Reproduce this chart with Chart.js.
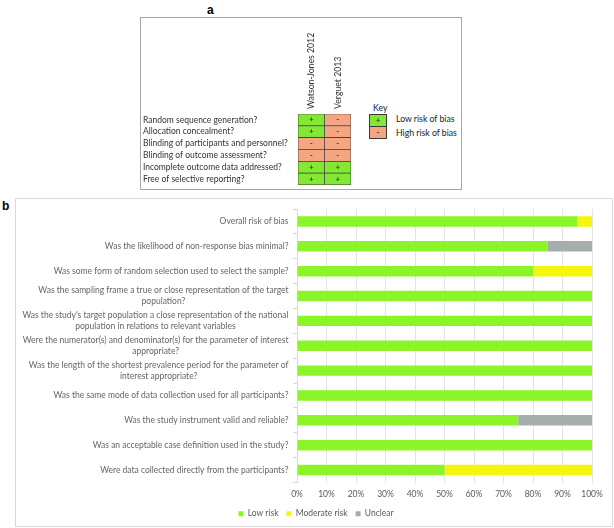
<!DOCTYPE html>
<html><head><meta charset="utf-8">
<script src="https://cdn.jsdelivr.net/npm/chart.js@4/dist/chart.umd.min.js"></script>
<style>
body{margin:0;width:614px;height:528px;background:#fff;position:relative;overflow:hidden;font-family:Lato,sans-serif}
.plab{position:absolute;font-family:"Liberation Sans",Arial,sans-serif;font-weight:bold;font-size:12px;color:#000;line-height:12px}
#boxA{position:absolute;left:140px;top:17px;width:322px;height:173px;border:1px solid #a6a6a6;box-sizing:border-box}
#boxB{position:absolute;left:15px;top:198px;width:598px;height:329px;border:1px solid #d9d9d9;box-sizing:border-box}
#wa{position:absolute;left:140px;top:17px;width:216px;height:173px}
#wb{position:absolute;left:16px;top:199px;width:595px;height:329px}
.kbox{position:absolute;left:369px;width:18px;height:13px;border:1px solid #3a3a3a;box-sizing:border-box;font-size:8px;font-weight:bold;color:#333;text-align:center;line-height:11px}
.ktxt{position:absolute;left:396px;font-size:8.7px;color:#1a1a1a;line-height:12px;white-space:nowrap}
</style></head>
<body>
<div class="plab" style="left:207px;top:4px">a</div>
<div class="plab" style="left:2px;top:200px">b</div>
<div id="boxA"></div>
<div id="boxB"></div>
<div id="wa"><canvas id="ca" width="216" height="173"></canvas></div>
<div id="wb"><canvas id="cb" width="595" height="329"></canvas></div>
<div class="ktxt" style="left:373px;top:102px">Key</div>
<div class="kbox" style="top:114px;background:#82e833">+</div>
<div class="kbox" style="top:126px;background:#f4a582">-</div>
<div class="ktxt" style="top:113px">Low risk of bias</div>
<div class="ktxt" style="top:127px">High risk of bias</div>
<script>
// ---- Panel a data ----
const domainsA = ['Random sequence generation?','Allocation concealment?','Blinding of participants and personnel?','Blinding of outcome assessment?','Incomplete outcome data addressed?','Free of selective reporting?'];
const studies = ['Watson-Jones 2012','Verguet 2013'];
const watsonJones = ['+','+','-','-','+','+'];
const verguet = ['-','-','-','-','+','+'];

// ---- Panel b data ----
const questions = [
  ['Overall risk of bias'],
  ['Was the likelihood of non-response bias minimal?'],
  ['Was some form of random selection used to select the sample?'],
  ['Was the sampling frame a true or close representation of the target','population?'],
  ["Was the study's target population a close representation of the national",'population in relations to relevant variables'],
  ['Were the numerator(s) and denominator(s) for the parameter of interest','appropriate?'],
  ['Was the length of the shortest prevalence period for the parameter of','interest appropriate?'],
  ['Was the same mode of data collection used for all participants?'],
  ['Was the study instrument valid and reliable?'],
  ['Was an acceptable case definition used in the study?'],
  ['Were data collected directly from the participants?']
];
const lowRisk      = [95, 85, 80, 100, 100, 100, 100, 100, 75, 100, 50];
const moderateRisk = [ 5,  0, 20,   0,   0,   0,   0,   0,  0,   0, 50];
const unclear      = [ 0, 15,  0,   0,   0,   0,   0,   0, 25,   0,  0];
const seriesNames = ['Low risk','Moderate risk','Unclear'];

const GREEN_A = '#82e833', SALMON = '#f4a582';
const judgements = [watsonJones, verguet];

const cellText = {
  id:'cellText',
  afterDatasetsDraw(chart){
    const ctx = chart.ctx, xs = chart.scales.x, ys = chart.scales.y;
    ctx.save();
    ctx.font = 'bold 8px Lato'; ctx.fillStyle = '#333';
    ctx.textAlign = 'center'; ctx.textBaseline = 'middle';
    judgements.forEach((arr,j)=>arr.forEach((v,i)=>{
      ctx.fillText(v, xs.getPixelForValue(j+0.5), ys.getPixelForValue(i));
    }));
    // rotated study headers
    ctx.font = '8.7px Lato'; ctx.fillStyle = '#333';
    ctx.textAlign = 'left'; ctx.textBaseline = 'middle';
    studies.forEach((s,j)=>{
      ctx.save();
      ctx.translate(xs.getPixelForValue(j+0.5), chart.chartArea.top - 5);
      ctx.rotate(-Math.PI/2);
      ctx.fillText(s, 0, 0);
      ctx.restore();
    });
    ctx.restore();
  }
};

new Chart(document.getElementById('ca'), {
  type:'bar',
  data:{
    labels: domainsA,
    datasets: studies.map((s,j)=>({
      label:s,
      data: domainsA.map(()=>[j, j+1]),
      grouped:false,
      backgroundColor: judgements[j].map(v => v==='+' ? GREEN_A : SALMON),
      borderColor:'#3a3a3a', borderWidth:0.7, borderSkipped:false,
      categoryPercentage:1, barPercentage:1
    }))
  },
  options:{
    indexAxis:'y', responsive:false, animation:false, events:[],
    layout:{padding:{left:3,right:5,top:97,bottom:1}},
    plugins:{legend:{display:false},tooltip:{enabled:false}},
    scales:{
      x:{type:'linear',min:0,max:2,display:false},
      y:{type:'category',grid:{display:false},border:{display:false},
         ticks:{autoSkip:false,crossAlign:'far',padding:0,color:'#333',font:{family:'Lato',size:8.5}},
         afterFit(s){s.width=155;}}
    }
  },
  plugins:[cellText]
});

const LH = 11;
const yLabels = {
  id:'yLabels',
  afterDraw(chart){
    const ctx = chart.ctx, ys = chart.scales.y;
    const right = chart.chartArea.left - 8.5;
    ctx.save();
    ctx.font = '8.5px Lato'; ctx.fillStyle = '#666';
    ctx.textAlign = 'center'; ctx.textBaseline = 'middle';
    questions.forEach((lines,i)=>{
      const w = Math.max(...lines.map(l=>ctx.measureText(l).width));
      const cx = right - w/2;
      const y0 = ys.getPixelForValue(i) - (lines.length-1)*LH/2;
      lines.forEach((l,k)=>ctx.fillText(l, cx, y0 + k*LH));
    });
    ctx.restore();
  }
};

new Chart(document.getElementById('cb'), {
  type:'bar',
  data:{
    labels: questions,
    datasets:[
      {label:seriesNames[0], data:lowRisk, backgroundColor:'#8cf52a'},
      {label:seriesNames[1], data:moderateRisk, backgroundColor:'#f5f510'},
      {label:seriesNames[2], data:unclear, backgroundColor:'#a6adad'}
    ].map(d=>Object.assign(d,{barPercentage:0.42,categoryPercentage:1,borderWidth:0}))
  },
  options:{
    indexAxis:'y', responsive:false, animation:false, events:[],
    layout:{padding:{left:24,right:19,top:10,bottom:0}},
    plugins:{
      tooltip:{enabled:false},
      legend:{position:'bottom',labels:{boxWidth:5,boxHeight:5,padding:8,color:'#595959',font:{family:'Lato',size:8.5}}}
    },
    scales:{
      x:{stacked:true,min:0,max:100,
         grid:{color:'#e3e3e3',drawTicks:false},border:{display:false},
         ticks:{stepSize:10,padding:7,color:'#595959',font:{family:'Lato',size:8.5},callback:v=>v+'%'},
         afterFit(s){s.height=19;}},
      y:{stacked:true,
         grid:{drawOnChartArea:false,tickLength:4,color:'#d9d9d9'},
         border:{color:'#d9d9d9'},
         ticks:{display:false},
         afterFit(s){s.width=257;}}
    }
  },
  plugins:[yLabels]
});
</script>
</body></html>
